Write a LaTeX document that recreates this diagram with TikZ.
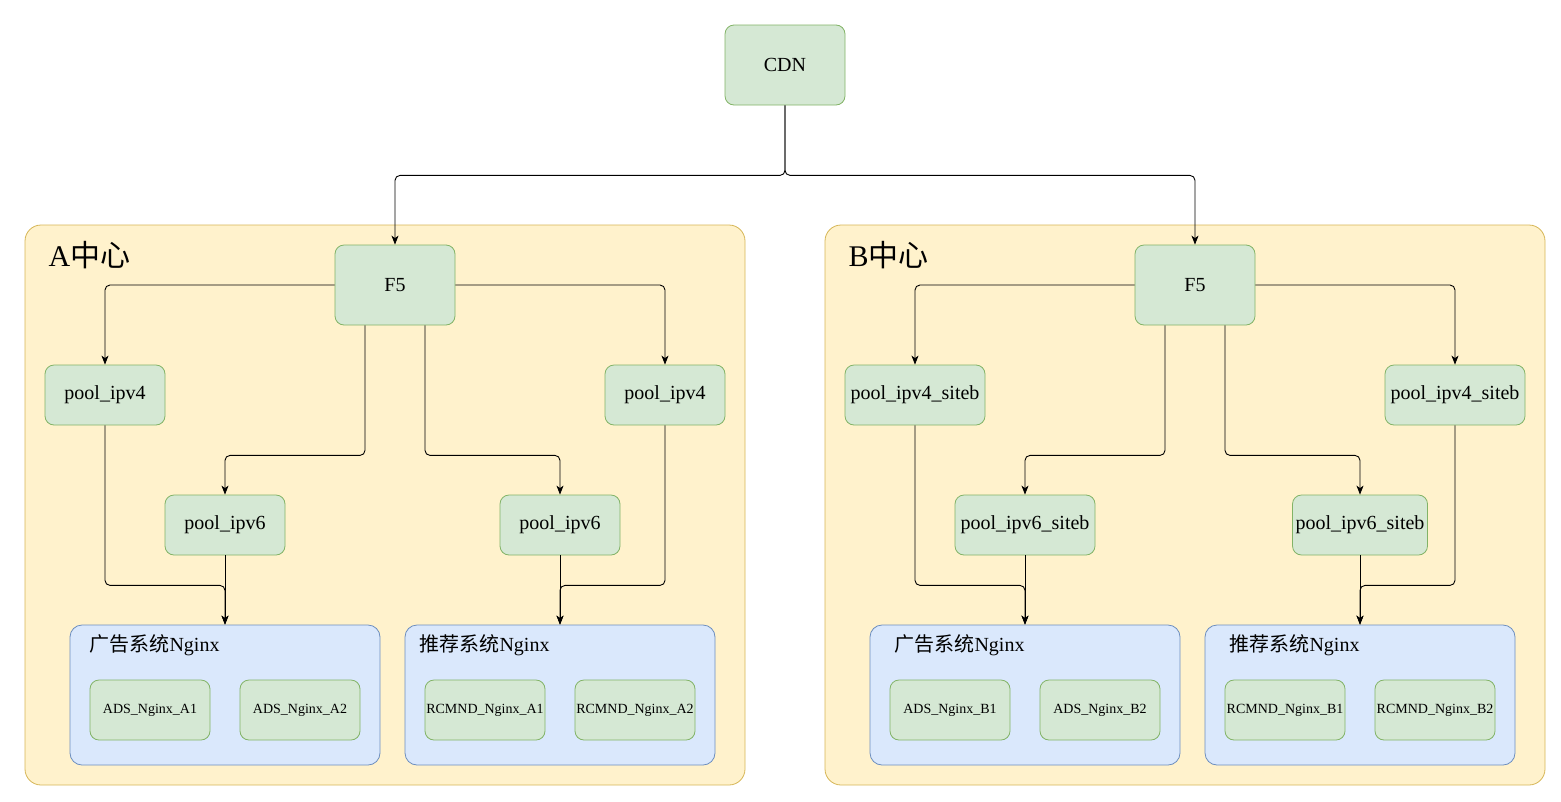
\documentclass[tikz,border=0pt]{standalone}
\usepackage{fontspec}
\setmainfont{Liberation Serif}
\newfontfamily\cjk{Noto Sans CJK SC}
\usetikzlibrary{arrows.meta}
\definecolor{boxfill}{HTML}{D5E8D4}
\definecolor{boxline}{HTML}{82B366}
\definecolor{sitefill}{HTML}{FFF2CC}
\definecolor{siteline}{HTML}{D6B656}
\definecolor{grpfill}{HTML}{DAE8FC}
\definecolor{grpline}{HTML}{6C8EBF}
\begin{document}
\begin{tikzpicture}[x=1pt,y=-1pt,
  box/.style={draw=boxline, fill=boxfill, rounded corners=9pt, line width=0.8pt, inner sep=0pt, minimum width=120pt, minimum height=60pt, font=\fontsize{20}{24}\selectfont},
  tall/.style={box, minimum height=80pt},
  small/.style={box, font=\fontsize{14}{16}\selectfont},
  site/.style={draw=siteline, fill=sitefill, rounded corners=16pt, line width=0.8pt, minimum width=720pt, minimum height=560pt},
  grp/.style={draw=grpline, fill=grpfill, rounded corners=12pt, line width=0.8pt, minimum width=310pt, minimum height=140pt},
  link/.style={line width=0.9pt, rounded corners=5pt, -{Stealth[length=9pt,width=7pt,inset=2.5pt]}}]
\useasboundingbox (0,0) rectangle (1561,801);
\node[site] (sa) at (385,505) {};
\node[site] (sb) at (1185,505) {};
\node[anchor=west, font=\fontsize{30}{34}\selectfont] (ta) at (45,255) {A{\cjk 中心}};
\node[anchor=west, font=\fontsize{30}{34}\selectfont] (tb) at (845,255) {B{\cjk 中心}};
\node[tall] (cdn) at (785,65) {CDN};
\node[tall] (f5a) at (395,285) {F5};
\node[tall] (f5b) at (1195,285) {F5};
\node[box] (v4a1) at (105,395) {pool\_ipv4};
\node[box] (v4a2) at (665,395) {pool\_ipv4};
\node[box] (v6a1) at (225,525) {pool\_ipv6};
\node[box] (v6a2) at (560,525) {pool\_ipv6};
\node[box, minimum width=140pt] (v4b1) at (915,395) {pool\_ipv4\_siteb};
\node[box, minimum width=140pt] (v4b2) at (1455,395) {pool\_ipv4\_siteb};
\node[box, minimum width=140pt] (v6b1) at (1025,525) {pool\_ipv6\_siteb};
\node[box, minimum width=135pt] (v6b2) at (1360,525) {pool\_ipv6\_siteb};
\node[grp] (ga1) at (225,695) {};
\node[grp] (ga2) at (560,695) {};
\node[grp] (gb1) at (1025,695) {};
\node[grp] (gb2) at (1360,695) {};
\node[anchor=west, font=\fontsize{20}{24}\selectfont] (la1) at (86,645) {{\cjk 广告系统}Nginx};
\node[anchor=west, font=\fontsize{20}{24}\selectfont] (la2) at (416,645) {{\cjk 推荐系统}Nginx};
\node[anchor=west, font=\fontsize{20}{24}\selectfont] (lb1) at (891,645) {{\cjk 广告系统}Nginx};
\node[anchor=west, font=\fontsize{20}{24}\selectfont] (lb2) at (1226,645) {{\cjk 推荐系统}Nginx};
\node[small] (adsa1) at (150,710) {ADS\_Nginx\_A1};
\node[small] (adsa2) at (300,710) {ADS\_Nginx\_A2};
\node[small] (rca1) at (485,710) {RCMND\_Nginx\_A1};
\node[small] (rca2) at (635,710) {RCMND\_Nginx\_A2};
\node[small] (adsb1) at (950,710) {ADS\_Nginx\_B1};
\node[small] (adsb2) at (1100,710) {ADS\_Nginx\_B2};
\node[small] (rcb1) at (1285,710) {RCMND\_Nginx\_B1};
\node[small] (rcb2) at (1435,710) {RCMND\_Nginx\_B2};
\foreach \c in {a,b} {
  \draw[link] (cdn.south) -- ++(0,70) -| (f5\c.north);
  \draw[link] (f5\c.west) -| (v4\c1.north);
  \draw[link] (f5\c.east) -| (v4\c2.north);
  \draw[link] ([xshift=-30pt]f5\c.south) -- ++(0,130) -| (v6\c1.north);
  \draw[link] ([xshift=30pt]f5\c.south) -- ++(0,130) -| (v6\c2.north);
  \draw[link] (v4\c1.south) -- ++(0,160) -| (g\c1.north);
  \draw[link] (v4\c2.south) -- ++(0,160) -| (g\c2.north);
  \draw[link] (v6\c1.south) -- (g\c1.north);
  \draw[link] (v6\c2.south) -- (g\c2.north);
}
\end{tikzpicture}
\end{document}
